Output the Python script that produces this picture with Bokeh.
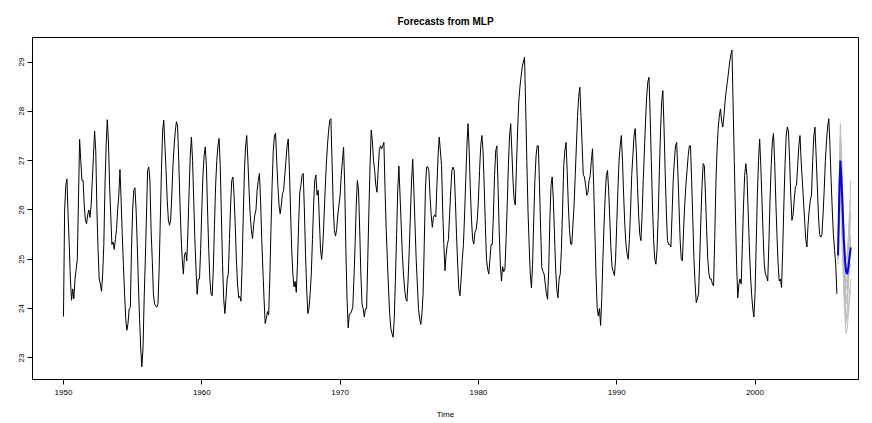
from bokeh.plotting import figure
from bokeh.models import FixedTicker, Range1d
from bokeh.embed import file_html
from bokeh.resources import INLINE

# ---------------- data (monthly) ----------------
start_year = 1950
sst_1950s = [
    23.84, 26.0, 26.5, 26.63, 25.9, 25.3, 24.6, 24.17, 24.4, 24.2, 24.6, 24.8,
    25.0, 26.2, 27.43, 27.0, 26.6, 26.6, 26.1, 25.8, 25.72, 25.9, 26.0, 25.85,
    26.1, 26.6, 27.1, 27.6, 27.2, 26.0, 25.2, 24.6, 24.5, 24.35, 24.7, 25.3,
    26.5, 27.3, 27.83, 27.4, 26.5, 25.9, 25.3, 25.35, 25.2, 25.4, 25.6, 26.0,
    26.3, 26.82, 26.2, 25.5, 24.9, 24.3, 23.8, 23.56, 23.7, 24.0, 24.02, 25.2,
    26.0, 26.4, 26.45, 26.0, 25.3, 24.5, 23.8, 23.2, 22.82, 23.2, 24.2, 25.0,
    25.9, 26.8, 26.87, 26.6, 25.6, 25.0, 24.3, 24.1, 24.05, 24.03, 24.1, 24.8,
    25.8, 26.8, 27.6, 27.82, 27.3, 26.8, 26.2, 25.8, 25.69, 25.8, 26.3, 26.9,
    27.3, 27.6, 27.79, 27.7, 27.0, 26.2, 25.5, 25.0, 24.7, 25.1, 25.14, 24.97,
    25.6, 26.4, 27.1, 27.48, 27.0, 26.2, 25.4, 24.8, 24.29, 24.6, 24.6, 25.2,
]
sst_1960s = [
    26.0, 26.7, 27.1, 27.28, 26.9, 26.0, 25.2, 24.6, 24.3, 24.26, 24.8, 25.7,
    26.5, 27.0, 27.3, 27.45, 26.9, 25.9, 24.9, 24.2, 23.9, 24.2, 24.6, 24.7,
    25.4, 26.1, 26.6, 26.67, 26.3, 25.7, 25.0, 24.5, 24.22, 24.25, 24.15, 24.9,
    25.9, 26.8, 27.3, 27.51, 27.0, 26.4, 25.9, 25.6, 25.42, 25.7, 25.9, 26.0,
    26.4, 26.6, 26.74, 26.2, 25.4, 24.8, 24.2, 23.7, 23.8, 23.94, 23.87, 24.6,
    25.6, 26.5, 27.2, 27.5, 27.56, 27.0, 26.5, 26.1, 25.92, 26.1, 26.33, 26.4,
    26.7, 27.0, 27.3, 27.44, 26.8, 26.0, 25.2, 24.7, 24.44, 24.55, 24.33, 24.9,
    25.7, 26.35, 26.5, 26.7, 26.74, 26.0, 25.1, 24.4, 23.9, 24.0, 24.3, 24.7,
    25.4, 26.1, 26.6, 26.71, 26.3, 26.4, 25.8, 25.2, 25.0, 25.3, 25.8, 26.4,
    26.9, 27.3, 27.6, 27.82, 27.85, 27.0, 26.1, 25.6, 25.47, 25.6, 25.9, 26.1,
]
sst_1970s = [
    26.3, 26.7, 27.0, 27.27, 26.5, 25.2, 24.2, 23.61, 23.89, 23.9, 23.95, 24.03,
    24.6, 25.3, 26.1, 26.6, 26.4, 25.6, 24.7, 24.1, 24.0, 23.83, 24.0, 24.0,
    25.0, 26.0, 26.9, 27.62, 27.4, 27.0, 26.8, 26.5, 26.36, 26.8, 27.2, 27.3,
    27.24, 27.3, 27.37, 26.4, 25.6, 25.0, 24.4, 23.9, 23.6, 23.5, 23.42, 23.8,
    24.6, 25.5, 26.4, 26.89, 26.3, 25.7, 25.1, 24.7, 24.4, 24.2, 24.15, 24.6,
    25.2, 25.9, 26.6, 27.03, 26.4, 25.7, 25.0, 24.5, 24.0, 23.8, 23.68, 23.9,
    24.3, 25.3, 26.4, 26.87, 26.88, 26.8, 26.3, 25.9, 25.65, 25.85, 25.9, 25.86,
    26.5, 27.1, 27.48, 27.2, 26.9, 26.0, 25.3, 24.77, 25.1, 25.3, 25.4, 25.9,
    26.4, 26.8, 26.87, 26.8, 26.2, 25.5, 24.9, 24.4, 24.26, 24.6, 25.0, 25.3,
    25.9, 26.6, 27.3, 27.75, 27.2, 26.4, 25.8, 25.4, 25.31, 25.55, 25.6, 25.8,
]
sst_1980s = [
    26.2, 26.8, 27.3, 27.51, 27.2, 26.5, 25.7, 25.0, 24.8, 24.70, 25.0, 25.3,
    25.3, 25.9, 26.7, 27.2, 27.3, 26.5, 25.6, 24.9, 24.56, 24.85, 24.75, 24.8,
    25.4, 26.1, 26.9, 27.5, 27.75, 27.2, 26.6, 26.2, 26.1, 26.9, 27.6, 28.2,
    28.49, 28.7, 28.9, 29.0, 29.1, 28.1, 27.0, 26.0, 25.3, 24.70, 24.42, 24.9,
    25.8, 26.6, 27.1, 27.3, 27.3, 26.5, 25.6, 24.83, 24.75, 24.70, 24.5, 24.3,
    24.19, 24.8, 25.8, 26.5, 26.67, 26.2, 25.5, 24.8, 24.4, 24.22, 24.6, 24.7,
    25.2, 26.0, 26.9, 27.2, 27.37, 26.8, 26.1, 25.6, 25.31, 25.3, 25.7, 26.1,
    26.7, 27.3, 27.9, 28.3, 28.49, 27.9, 27.3, 26.7, 26.67, 26.5, 26.3, 26.35,
    26.6, 26.7, 27.0, 27.24, 26.5, 25.6, 24.7, 24.03, 23.85, 24.0, 23.66, 24.2,
    25.0, 25.7, 26.3, 26.7, 26.8, 26.4, 25.8, 25.2, 24.83, 24.75, 24.67, 25.0,
]
sst_1990s = [
    25.7, 26.4, 27.0, 27.3, 27.51, 27.0, 26.3, 25.7, 25.31, 25.1, 25.0, 25.4,
    26.0, 26.7, 27.1, 27.5, 27.65, 27.2, 26.5, 25.9, 25.5, 25.38, 25.9, 26.6,
    27.2, 27.8, 28.3, 28.6, 28.69, 27.9, 27.0, 26.1, 25.4, 25.0, 24.9, 25.2,
    25.9, 26.8, 27.6, 28.2, 28.42, 27.7, 26.8, 26.0, 25.38, 25.3, 25.3, 25.25,
    25.9, 26.6, 27.0, 27.3, 27.37, 26.8, 26.1, 25.4, 25.0, 24.97, 25.6, 26.1,
    26.5, 26.8, 27.1, 27.3, 27.3, 26.6, 25.8, 25.0, 24.5, 24.12, 24.2, 24.3,
    25.0, 25.8, 26.5, 26.94, 26.9, 26.3, 25.6, 25.0, 24.7, 24.6, 24.6, 24.5,
    24.46, 25.4, 26.5, 27.2, 27.65, 27.9, 28.05, 27.8, 27.68, 27.9, 28.2, 28.42,
    28.6, 28.8, 29.0, 29.15, 29.24, 28.1, 27.0, 25.9, 24.9, 24.22, 24.5, 24.6,
    24.5, 25.3, 26.1, 26.7, 26.94, 26.7, 26.0, 25.3, 24.7, 24.3, 24.0, 23.83,
]
sst_2000s = [
    24.3, 25.3, 26.3, 27.0, 27.44, 26.9, 26.2, 25.5, 24.9, 24.70, 24.65, 24.56,
    25.3, 26.2, 26.9, 27.37, 27.55, 27.0, 26.2, 25.5, 24.9, 24.56, 24.6, 24.43,
    25.2, 26.1, 26.9, 27.5, 27.68, 27.6, 27.0, 26.3, 25.79, 25.9, 26.2, 26.47,
    26.5, 26.9, 27.3, 27.51, 27.0, 26.6, 26.2, 25.8, 25.4, 25.25, 25.7, 26.0,
    26.2, 26.3, 27.0, 27.5, 27.68, 27.1, 26.5, 25.9, 25.5, 25.45, 25.5, 25.9,
    26.4, 27.0, 27.4, 27.7, 27.85, 27.3, 26.6, 26.0, 25.5, 25.18, 24.9, 24.3,
]

# forecast (12 months, 2006)
fc_start = 2006.0
fc_mean = [25.08, 26.2, 27.0, 26.6, 26.0, 25.4, 25.0, 24.75, 24.7, 24.85, 25.05, 25.24]
fc_reps = [
    [25.1, 26.5, 27.75, 27.2, 26.4, 25.7, 25.1, 24.8, 24.9, 25.3, 25.9, 26.6],
    [25.0, 26.0, 26.6, 26.1, 25.5, 24.9, 24.4, 24.1, 24.2, 24.6, 25.0, 25.3],
    [25.2, 26.4, 27.3, 26.9, 26.2, 25.5, 24.9, 24.6, 24.5, 24.7, 25.0, 25.2],
    [24.9, 25.8, 26.3, 25.7, 25.0, 24.3, 23.8, 23.5, 23.6, 23.9, 24.2, 24.4],
    [25.1, 26.3, 27.1, 26.7, 26.1, 25.6, 25.2, 25.0, 25.1, 25.5, 26.0, 26.2],
    [25.0, 26.1, 26.9, 26.3, 25.6, 24.9, 24.3, 23.9, 23.8, 24.0, 24.3, 24.6],
    [25.3, 26.6, 27.5, 27.0, 26.3, 25.5, 24.8, 24.4, 24.5, 25.0, 25.6, 26.0],
    [25.0, 26.2, 26.8, 26.2, 25.4, 24.6, 24.0, 23.7, 24.0, 24.5, 25.0, 25.5],
    [25.1, 26.3, 27.2, 26.8, 26.0, 25.3, 24.7, 24.4, 24.4, 24.6, 24.8, 24.9],
    [25.2, 26.5, 27.4, 26.9, 26.1, 25.2, 24.5, 24.2, 24.3, 24.8, 25.4, 25.9],
]

x_ticks = [1950, 1960, 1970, 1980, 1990, 2000]
y_ticks = [23, 24, 25, 26, 27, 28, 29]
title_text = "Forecasts from MLP"
x_label = "Time"

# ---------------- build ----------------
sst = sst_1950s + sst_1960s + sst_1970s + sst_1980s + sst_1990s + sst_2000s
t = [start_year + i / 12 for i in range(len(sst))]
t_fc = [fc_start + i / 12 for i in range(len(fc_mean))]

FONT = "Liberation Sans"

p = figure(width=872, height=423, output_backend="svg", toolbar_location=None,
           x_range=Range1d(1947.76, 2007.48), y_range=Range1d(22.563, 29.497),
           min_border_left=32, min_border_right=14, min_border_top=37,
           min_border_bottom=44, background_fill_color="white",
           border_fill_color="white")

p.title.text = title_text
p.title.align = "center"
p.title.text_font = FONT
p.title.text_font_size = "10px"
p.title.text_font_style = "bold"
p.title.text_color = "black"
p.title.standoff = 21

p.grid.visible = False
p.outline_line_color = "black"
p.outline_line_width = 1

for ax in (p.xaxis[0], p.yaxis[0]):
    ax.axis_line_color = None
    ax.major_tick_line_color = "black"
    ax.major_tick_out = 5
    ax.major_tick_in = 0
    ax.minor_tick_line_color = None
    ax.major_label_text_font = FONT
    ax.major_label_text_font_size = "8px"
    ax.major_label_text_color = "black"
    ax.axis_label_text_font = FONT
    ax.axis_label_text_font_size = "8px"
    ax.axis_label_text_font_style = "normal"
    ax.axis_label_text_color = "black"

p.xaxis.ticker = FixedTicker(ticks=x_ticks)
p.yaxis.ticker = FixedTicker(ticks=y_ticks)
p.xaxis.major_label_standoff = 5
p.yaxis.major_label_standoff = 3
p.yaxis.major_label_orientation = "vertical"
p.xaxis.axis_label = x_label
p.xaxis.axis_label_standoff = 12

p.line(t, sst, line_color="black", line_width=1)
for rep in fc_reps:
    p.line(t_fc, rep, line_color="#BEBEBE", line_width=1)
p.line(t_fc, fc_mean, line_color="#0000FF", line_width=2)

open("out.html", "w").write(file_html(p, INLINE))
